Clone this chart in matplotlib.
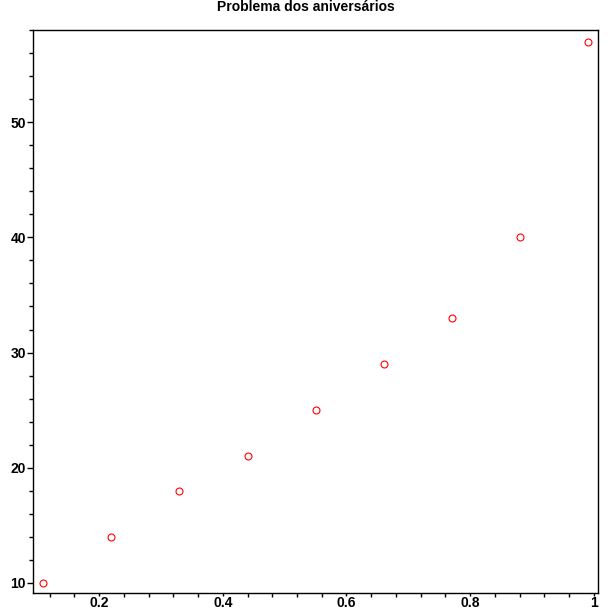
import numpy as np
import matplotlib.pyplot as plt
from matplotlib.ticker import MultipleLocator

# probabilidade de coincidencia vs numero de pessoas
prob = [0.11, 0.22, 0.33, 0.44, 0.55, 0.66, 0.77, 0.88, 0.99]
pessoas = [10, 14, 18, 21, 25, 29, 33, 40, 57]

x_ticks = [0.2, 0.4, 0.6, 0.8, 1.0]
x_labels = ['0.2', '0.4', '0.6', '0.8', '1']
y_ticks = [10, 20, 30, 40, 50]

plt.rcParams['font.family'] = ['Liberation Sans Narrow', 'Liberation Sans', 'DejaVu Sans']
plt.rcParams['font.weight'] = 'bold'

fig = plt.figure(figsize=(6.12, 6.12), dpi=100)
ax = fig.add_axes([33 / 612, 19 / 612, 565 / 612, 563 / 612])

ax.plot(prob, pessoas, 'o', color='red', markerfacecolor='none', markersize=5, markeredgewidth=0.8)

ax.set_xlim(0.0933, 1.0065)
ax.set_ylim(9.13, 58.0)

ax.set_xticks(x_ticks)
ax.set_xticklabels(x_labels)
ax.set_yticks(y_ticks)
ax.xaxis.set_minor_locator(MultipleLocator(0.04))
ax.yaxis.set_minor_locator(MultipleLocator(2))

ax.tick_params(which='major', length=4, width=1, labelsize=10, pad=1, direction='out')
ax.tick_params(which='minor', length=3, width=1, direction='out')
ax.tick_params(axis='x', which='major', length=2, pad=0)
for s in ax.spines.values():
    s.set_linewidth(1)

fig.text(0.5, 1 - 7 / 612, 'Problema dos aniversários', ha='center', va='center', fontsize=10, fontweight='bold')

fig.savefig('out.png', dpi=100)
